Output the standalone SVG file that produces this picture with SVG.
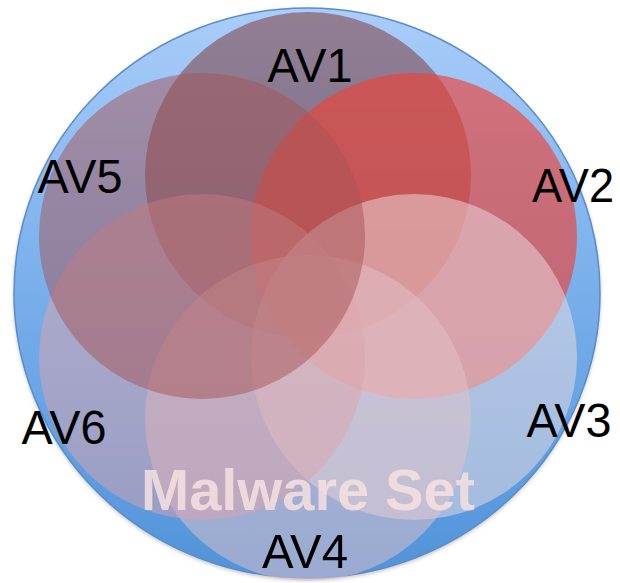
<svg xmlns="http://www.w3.org/2000/svg" width="620" height="583" viewBox="0 0 620 583">
  <defs>
    <linearGradient id="bg" x1="0" y1="0" x2="0" y2="1">
      <stop offset="0" stop-color="#aacdf9"/>
      <stop offset="0.4" stop-color="#80b4ee"/>
      <stop offset="1" stop-color="#5193d9"/>
    </linearGradient>
    <filter id="shadow" x="-10%" y="-10%" width="120%" height="120%">
      <feGaussianBlur stdDeviation="2"/>
    </filter>
  </defs>
  <style>
    .set { stroke: none; }
    .lbl { font-family: "Liberation Sans", Arial, sans-serif; font-size: 49px; fill: #000; text-anchor: middle; }
    .title { font-family: "Liberation Sans", Arial, sans-serif; font-size: 58px; font-weight: bold; fill: #f6e0df; fill-opacity: 0.85; text-anchor: middle; }
  </style>
  <g id="malware-set">
    <ellipse cx="307" cy="295" rx="293" ry="285" fill="#404040" opacity="0.35" filter="url(#shadow)"/>
    <ellipse cx="307" cy="293" rx="293" ry="285" fill="url(#bg)" stroke="#5a8ccc" stroke-width="1.5"/>
  </g>
  <g id="av1"><circle class="set" cx="308" cy="175" r="163" fill="#7a302e" fill-opacity="0.5"/></g>
  <g id="av2"><circle class="set" cx="414" cy="236" r="163" fill="#ed4439" fill-opacity="0.65"/></g>
  <g id="av3"><circle class="set" cx="414" cy="357" r="163" fill="#eddde0" fill-opacity="0.5"/></g>
  <g id="av4"><circle class="set" cx="308" cy="418" r="163" fill="#e4c2c7" fill-opacity="0.5"/></g>
  <g id="av6"><circle class="set" cx="202" cy="357" r="163" fill="#dca4ac" fill-opacity="0.5"/></g>
  <g id="av5"><circle class="set" cx="202" cy="236" r="163" fill="#a65455" fill-opacity="0.5"/></g>
  <g id="labels">
    <text class="lbl" x="310" y="82" textLength="85" lengthAdjust="spacingAndGlyphs">AV1</text>
    <text class="lbl" x="573" y="202" textLength="82" lengthAdjust="spacingAndGlyphs">AV2</text>
    <text class="lbl" x="569" y="437" textLength="85" lengthAdjust="spacingAndGlyphs">AV3</text>
    <text class="lbl" x="305" y="568" textLength="86" lengthAdjust="spacingAndGlyphs">AV4</text>
    <text class="lbl" x="80" y="193" textLength="85" lengthAdjust="spacingAndGlyphs">AV5</text>
    <text class="lbl" x="64" y="444" textLength="85" lengthAdjust="spacingAndGlyphs">AV6</text>
    <text class="title" x="308" y="510" textLength="334" lengthAdjust="spacingAndGlyphs">Malware Set</text>
  </g>
</svg>
